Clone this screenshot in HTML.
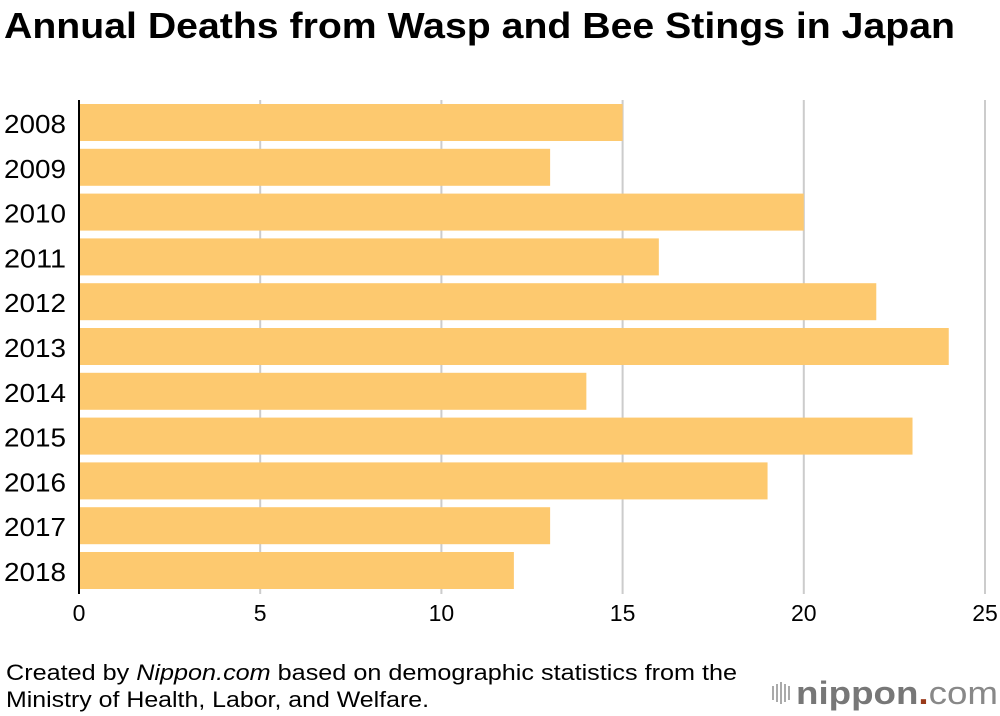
<!DOCTYPE html>
<html><head><meta charset="utf-8"><style>
body{margin:0;width:1000px;height:716px;background:#fff;font-family:"Liberation Sans",sans-serif;overflow:hidden}
svg{position:absolute;left:0;top:0}
</style></head><body>
<svg width="1000" height="716">
<text x="4" y="38" font-size="36" font-weight="bold" fill="#000" textLength="951" lengthAdjust="spacingAndGlyphs">Annual Deaths from Wasp and Bee Stings in Japan</text>
<g id="grid"></g><g id="bars"></g><g id="labels"></g>
<line x1="79" y1="100" x2="79" y2="594" stroke="#000" stroke-width="2"/>
<text x="6" y="680" font-size="22" fill="#000" textLength="731" lengthAdjust="spacingAndGlyphs">Created by <tspan font-style="italic">Nippon.com</tspan> based on demographic statistics from the</text>
<text x="6" y="707" font-size="22" fill="#000" textLength="423" lengthAdjust="spacingAndGlyphs">Ministry of Health, Labor, and Welfare.</text>
<g>
<g fill="#aaa"><rect x="772" y="686" width="2" height="14"/><rect x="776" y="684" width="2" height="18"/><rect x="780" y="682" width="2" height="22"/><rect x="784" y="684" width="2" height="18"/><rect x="788" y="686" width="2" height="14"/></g>
<text x="796" y="704" font-size="32" fill="#777" font-weight="bold" textLength="202" lengthAdjust="spacingAndGlyphs">nippon<tspan fill="#9a3a1a">.</tspan><tspan font-weight="normal" fill="#888">com</tspan></text>
</g>
</svg>
<script>
const years=["2008","2009","2010","2011","2012","2013","2014","2015","2016","2017","2018"];
const deaths=[15,13,20,16,22,24,14,23,19,13,12];
const ticks=[0,5,10,15,20,25];
const NS="http://www.w3.org/2000/svg";
const x=v=>79+v*36.24;
const y=i=>104+i*44.8;
function mk(t,a,p){const e=document.createElementNS(NS,t);for(const k in a)e.setAttribute(k,a[k]);p.appendChild(e);return e;}
const g=document.getElementById('grid'),b=document.getElementById('bars'),l=document.getElementById('labels');
ticks.forEach(t=>{
 if(t>0){const ln=mk('line',{x1:x(t),x2:x(t),y1:100,y2:594,stroke:'#ccc','stroke-width':2},g);
 
 }
 const tx=mk('text',{x:x(t),y:621,'font-size':23,'text-anchor':'middle',fill:'#000'},l);tx.textContent=t;
 
 
});
years.forEach((yr,i)=>{
 const r=mk('rect',{x:79,y:y(i),width:x(deaths[i])-79,height:37,fill:'#fdc96f'},b);
 
 
 const tx=mk('text',{x:4,y:y(i)+29,'font-size':26,fill:'#000',textLength:62,lengthAdjust:'spacingAndGlyphs'},l);tx.textContent=yr;
 
 
});
</script>
</body></html>
